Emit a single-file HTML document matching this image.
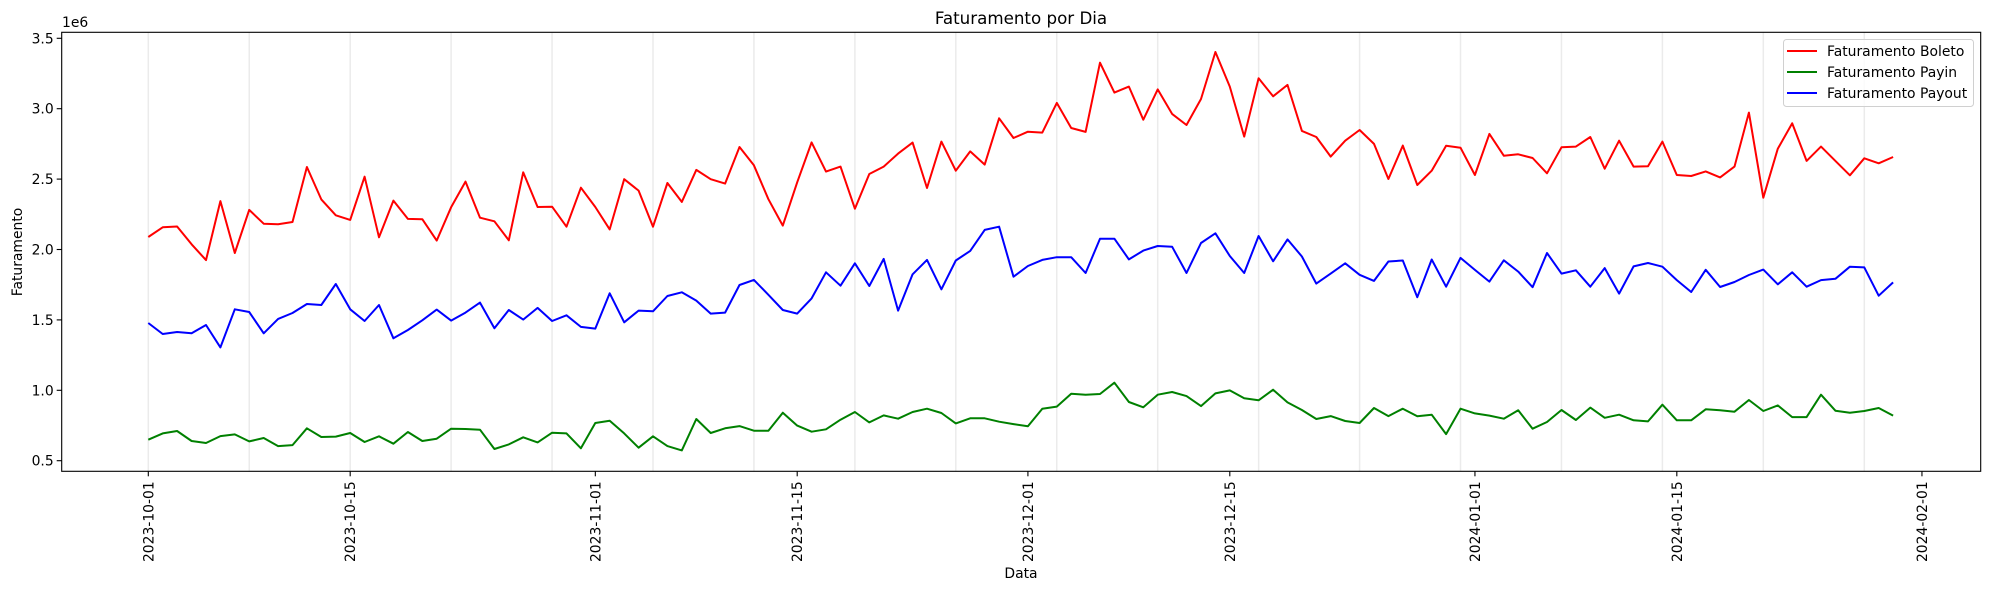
<!DOCTYPE html>
<html><head><meta charset="utf-8"><style>
html,body{margin:0;padding:0;background:#fff;}
svg text{font-family:"DejaVu Sans","Liberation Sans",sans-serif;fill:#000;}
</style></head><body>
<svg id="chart" width="1990" height="590" xmlns="http://www.w3.org/2000/svg"></svg>
<script>
const startDate = "2023-10-01";
const boleto = [2.089,2.158,2.163,2.037,1.925,2.344,1.975,2.281,2.183,2.18,2.195,2.586,2.356,2.243,2.21,2.517,2.087,2.347,2.217,2.215,2.063,2.30,
2.482,2.226,2.20,2.065,2.548,2.302,2.304,2.162,2.439,2.302,2.143,2.499,2.418,2.162,2.472,2.338,2.565,2.499,2.468,2.728,2.598,2.357,2.170,2.477,
2.761,2.553,2.589,2.290,2.536,2.589,2.681,2.759,2.437,2.766,2.560,2.697,2.603,2.932,2.792,2.837,2.830,3.041,2.863,2.835,3.327,3.114,3.157,2.922,3.137,
2.963,2.884,3.069,3.403,3.157,2.802,3.216,3.088,3.169,2.842,2.799,2.660,2.773,2.849,2.750,2.501,2.738,2.458,2.560,2.737,2.723,2.529,2.821,2.666,
2.676,2.650,2.541,2.726,2.731,2.799,2.574,2.773,2.589,2.591,2.766,2.529,2.522,2.555,2.512,2.589,2.972,2.368,2.716,2.896,2.629,2.731,2.629,2.527,2.648,2.612,2.657];
const payin = [0.649,0.694,0.711,0.640,0.626,0.675,0.687,0.637,0.661,0.604,0.611,0.730,0.668,0.671,0.697,0.633,0.673,0.621,0.704,0.640,0.656,0.727,0.725,0.720,0.583,0.616,0.666,0.630,0.699,0.694,0.588,
0.768,0.784,0.694,0.592,0.673,0.604,0.573,0.796,0.697,0.730,0.746,0.713,0.713,0.841,0.749,0.706,0.723,0.791,0.846,0.772,0.822,0.798,0.846,0.869,0.839,0.765,0.801,0.801,0.777,0.760,
0.745,0.869,0.884,0.976,0.969,0.974,1.054,0.917,0.879,0.969,0.988,0.959,0.888,0.978,0.999,0.943,0.929,1.004,0.914,0.860,0.796,0.817,0.782,0.768,0.874,0.817,0.869,0.815,0.827,0.689,0.869,
0.836,0.820,0.798,0.858,0.727,0.775,0.860,0.789,0.877,0.805,0.827,0.787,0.779,0.898,0.787,0.787,0.865,0.858,0.848,0.931,0.853,0.893,0.810,0.810,0.969,0.855,0.841,0.853,0.874,0.820];
const payout = [1.478,1.400,1.414,1.405,1.464,1.305,1.575,1.556,1.405,1.507,1.549,1.613,1.606,1.755,1.575,1.492,1.606,1.369,1.428,1.497,1.573,1.495,
1.552,1.623,1.440,1.570,1.502,1.585,1.492,1.533,1.450,1.438,1.689,1.483,1.566,1.561,1.670,1.696,1.637,1.545,1.552,1.748,1.784,1.678,1.570,1.545,
1.653,1.838,1.743,1.902,1.741,1.933,1.566,1.824,1.926,1.717,1.922,1.990,2.139,2.162,1.807,1.883,1.926,1.945,1.945,1.833,2.077,2.077,1.930,1.992,2.025,
2.020,1.833,2.046,2.115,1.954,1.833,2.096,1.916,2.072,1.950,1.758,1.829,1.902,1.820,1.777,1.915,1.922,1.661,1.929,1.736,1.940,1.855,1.772,1.923,
1.843,1.732,1.975,1.829,1.852,1.736,1.868,1.687,1.880,1.904,1.878,1.783,1.698,1.856,1.734,1.769,1.819,1.857,1.753,1.838,1.736,1.783,1.792,1.878,1.873,1.672,1.766];
const yTicks = [0.5,1.0,1.5,2.0,2.5,3.0,3.5];
const xTickLabels = ["2023-10-01","2023-10-15","2023-11-01","2023-11-15","2023-12-01","2023-12-15","2024-01-01","2024-01-15","2024-02-01"];
const seriesNames = ["Faturamento Boleto","Faturamento Payin","Faturamento Payout"];

const NS="http://www.w3.org/2000/svg";
const svg=document.getElementById('chart');
const L=61.7,R=1980.7,T=32.3,B=471.3;
const DAY=86400000, t0=Date.parse(startDate+"T00:00:00Z");
const dayOf=s=>(Date.parse(s+"T00:00:00Z")-t0)/DAY;
const xS=d=>148.3+d*14.42;
const yS=v=>460.7-(v-0.5)*140.8;
function mk(tag,attrs,parent){const e=document.createElementNS(NS,tag);for(const k in attrs)e.setAttribute(k,attrs[k]);(parent||svg).appendChild(e);return e;}

// weekly grid
const nDays=boleto.length;
for(let d=0;d<nDays;d+=7){
  const g=mk('line',{x1:xS(d),x2:xS(d),y1:T,y2:B,stroke:'#ebebeb','stroke-width':1.5});
  
  
}
// series
const colors=['#ff0000','#008000','#0000ff'];
const names=['boleto-line','payin-line','payout-line'];
[boleto,payin,payout].forEach((arr,i)=>{
  const pts=arr.map((v,d)=>xS(d).toFixed(1)+','+yS(v).toFixed(1)).join(' ');
  const p=mk('polyline',{points:pts,fill:'none',stroke:colors[i],'stroke-width':2,'stroke-linejoin':'round'});
  
  
});
// frame
const fr=mk('rect',{x:L,y:T,width:R-L,height:B-T,fill:'none',stroke:'#000','stroke-width':1.1});


// y ticks
yTicks.forEach(v=>{
  const y=yS(v);
  mk('line',{x1:L-5,x2:L,y1:y,y2:y,stroke:'#000','stroke-width':1.1});
  const t=mk('text',{x:L-8,y:y+5,'text-anchor':'end','font-size':13.9});
  t.textContent=v.toFixed(1);
  
  
});
// x ticks
xTickLabels.forEach(s=>{
  const x=xS(dayOf(s));
  mk('line',{x1:x,x2:x,y1:B,y2:B+5,stroke:'#000','stroke-width':1.1});
  const t=mk('text',{x:0,y:0,'text-anchor':'end','font-size':13.9,transform:`translate(${x+5},${B+10}) rotate(-90)`});
  t.textContent=s;
  
  
});
// legend
const lg=mk('g',{});


mk('rect',{x:1783.5,y:39.5,width:190,height:67,rx:3,fill:'#fff','fill-opacity':0.8,stroke:'#d0d0d0'},lg);
seriesNames.forEach((n,i)=>{
  const y=51+i*21;
  mk('line',{x1:1787,x2:1817,y1:y,y2:y,stroke:colors[i],'stroke-width':2},lg);
  const t=mk('text',{x:1827,y:y+5,'font-size':13.9},lg);
  t.textContent=n;
  
  
});
</script>
<svg style="position:absolute;left:0;top:0" width="1990" height="590" xmlns="http://www.w3.org/2000/svg">
<text x="1021" y="24" text-anchor="middle" font-size="16.7" style="font-family:'DejaVu Sans','Liberation Sans',sans-serif">Faturamento por Dia</text>
<text x="62" y="27" font-size="13.9" style="font-family:'DejaVu Sans','Liberation Sans',sans-serif">1e6</text>
<text transform="translate(22,252) rotate(-90)" text-anchor="middle" font-size="13.9" style="font-family:'DejaVu Sans','Liberation Sans',sans-serif">Faturamento</text>
<text x="1021" y="578" text-anchor="middle" font-size="13.9" style="font-family:'DejaVu Sans','Liberation Sans',sans-serif">Data</text>
</svg>
</body></html>
